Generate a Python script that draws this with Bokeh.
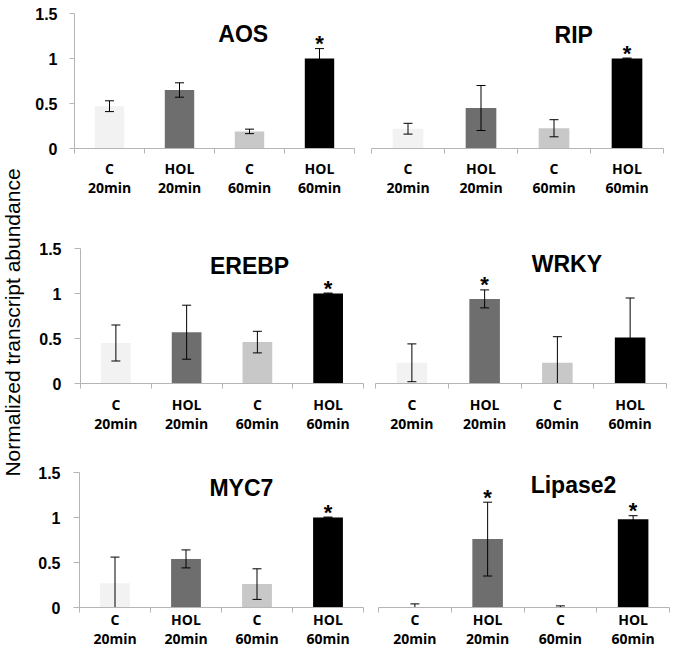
import math
import numpy as np
from bokeh.plotting import figure
from bokeh.layouts import row, column
from bokeh.models import FixedTicker, Label
from bokeh.core.properties import value
from bokeh.embed import file_html
from bokeh.resources import INLINE

# ---------------- data ----------------
categories = ["C\n20min", "HOL\n20min", "C\n60min", "HOL\n60min"]
bar_colors = ["#f2f2f2", "#6e6e6e", "#c8c8c8", "#000000"]
y_ticks = [0, 0.5, 1, 1.5]
y_tick_labels = ["0", "0.5", "1", "1.5"]
y_label = "Normalized transcript abundance"

genes = ["AOS", "RIP", "EREBP", "WRKY", "MYC7", "Lipase2"]

aos_mean = [0.47, 0.65, 0.19, 1.00]
aos_err = [0.06, 0.08, 0.025, 0.11]
aos_sig = [0, 0, 0, 1]

rip_mean = [0.22, 0.45, 0.225, 1.00]
rip_err = [0.06, 0.25, 0.095, 0.005]
rip_sig = [0, 0, 0, 1]

erebp_mean = [0.45, 0.57, 0.46, 1.00]
erebp_err = [0.20, 0.30, 0.12, 0.005]
erebp_sig = [0, 0, 0, 1]

wrky_mean = [0.23, 0.94, 0.23, 0.51]
wrky_err = [0.21, 0.10, 0.29, 0.44]
wrky_sig = [0, 1, 0, 0]

myc7_mean = [0.27, 0.54, 0.26, 1.00]
myc7_err = [0.29, 0.10, 0.17, 0.005]
myc7_sig = [0, 0, 0, 1]

lipase2_mean = [0.005, 0.76, 0.003, 0.98]
lipase2_err = [0.035, 0.41, 0.015, 0.04]
lipase2_sig = [0, 1, 0, 1]

means = [aos_mean, rip_mean, erebp_mean, wrky_mean, myc7_mean, lipase2_mean]
errs = [aos_err, rip_err, erebp_err, wrky_err, myc7_err, lipase2_err]
sigs = [aos_sig, rip_sig, erebp_sig, wrky_sig, myc7_sig, lipase2_sig]

# ---------------- layout (pixels / annotation placement) ----------------
specs = [
    dict(w=330, h=230, bl=40, br=8, bt=13, bb=82, yaxis=True, tx=2.41, ty=1.27, so=5, tick=5, yso=12),
    dict(w=313, h=230, bl=9, br=12, bt=13, bb=82, yaxis=False, tx=2.77, ty=1.26, so=5, tick=5, yso=12),
    dict(w=334, h=225, bl=48, br=3, bt=18, bb=72, yaxis=True, tx=2.39, ty=1.31, so=6, tick=6, yso=13),
    dict(w=309, h=225, bl=9, br=9, bt=18, bb=72, yaxis=False, tx=2.63, ty=1.33, so=6, tick=6, yso=13),
    dict(w=334, h=200, bl=47, br=3, bt=17, bb=48, yaxis=True, tx=2.28, ty=1.33, so=-3, tick=6, yso=13),
    dict(w=309, h=200, bl=12, br=6, bt=17, bb=48, yaxis=False, tx=2.68, ty=1.36, so=-3, tick=6, yso=13),
]

AXIS_GRAY = "#b5b5b5"


def make_panel(gene, mean, err, sig, s):
    n = len(categories)
    x = np.arange(n) + 0.5
    mean = np.array(mean, dtype=float)
    err = np.array(err, dtype=float)
    sig = np.array(sig, dtype=bool)
    upper = mean + err
    low_raw = mean - err
    lower = np.maximum(low_raw, 0)

    p = figure(width=s["w"], height=s["h"], x_range=(0, n), y_range=(0, 1.5),
               output_backend="svg", toolbar_location=None,
               y_axis_location="left" if s["yaxis"] else None,
               min_border_left=s["bl"], min_border_right=s["br"],
               min_border_top=s["bt"], min_border_bottom=s["bb"])
    p.outline_line_color = None
    p.grid.visible = False
    p.background_fill_color = "white"

    p.vbar(x=x, top=mean, width=0.42, fill_color=bar_colors, line_color=None)
    p.segment(x0=x, y0=lower, x1=x, y1=upper, line_color="black", line_width=1)
    p.scatter(x=x, y=upper, marker="dash", size=9, line_color="black", line_width=1)
    m = low_raw > 0
    p.scatter(x=x[m], y=low_raw[m], marker="dash", size=9, line_color="black", line_width=1)

    if sig.any():
        p.text(x=x[sig], y=upper[sig], text=["*"] * int(sig.sum()),
               text_font=value("Liberation Sans"), text_font_style="bold",
               text_font_size="22px", text_align="center", text_baseline="alphabetic",
               y_offset=-5, text_color="black")

    p.add_layout(Label(x=s["tx"], y=s["ty"], text=gene, text_font="Liberation Sans",
                       text_font_style="bold", text_font_size="23px",
                       text_align="center", text_baseline="middle", text_color="black"))

    xa = p.xaxis[0]
    xa.ticker = FixedTicker(ticks=list(x), minor_ticks=list(range(n + 1)))
    xa.major_label_overrides = {float(xi): c for xi, c in zip(x, categories)}
    xa.major_tick_line_color = None
    xa.major_tick_out = 0
    xa.minor_tick_out = 5
    xa.minor_tick_in = 0
    xa.minor_tick_line_color = AXIS_GRAY
    xa.axis_line_color = AXIS_GRAY
    xa.major_label_standoff = s["so"]
    xa.major_label_text_font = "Open Sans"
    xa.major_label_text_font_style = "bold"
    xa.major_label_text_font_size = "14px"
    xa.major_label_text_line_height = 1.05
    xa.major_label_text_color = "black"

    if s["yaxis"]:
        ya = p.yaxis[0]
        ya.ticker = FixedTicker(ticks=y_ticks, minor_ticks=[])
        ya.major_label_overrides = {float(t): l for t, l in zip(y_ticks, y_tick_labels)}
        ya.axis_line_color = AXIS_GRAY
        ya.major_tick_line_color = AXIS_GRAY
        ya.major_tick_out = s["tick"]
        ya.major_tick_in = 0
        ya.minor_tick_line_color = None
        ya.major_label_standoff = s["yso"]
        ya.major_label_text_font = "Liberation Sans"
        ya.major_label_text_font_style = "bold"
        ya.major_label_text_font_size = "16px"
        ya.major_label_text_color = "black"
    return p


panels = [make_panel(g, m, e, sg, s) for g, m, e, sg, s in zip(genes, means, errs, sigs, specs)]

ylab = figure(width=32, height=655, x_range=(0, 32), y_range=(0, 655),
              output_backend="svg", toolbar_location=None,
              x_axis_location=None, y_axis_location=None, min_border=0)
ylab.outline_line_color = None
ylab.grid.visible = False
ylab.add_layout(Label(x=12, y=333, text=y_label, angle=math.pi / 2,
                      text_font="Liberation Sans", text_font_size="21px",
                      text_align="center", text_baseline="middle", text_color="black"))

grid = column(row(panels[0], panels[1]), row(panels[2], panels[3]), row(panels[4], panels[5]))
layout = row(ylab, grid)

open("out.html", "w").write(file_html(layout, INLINE))
